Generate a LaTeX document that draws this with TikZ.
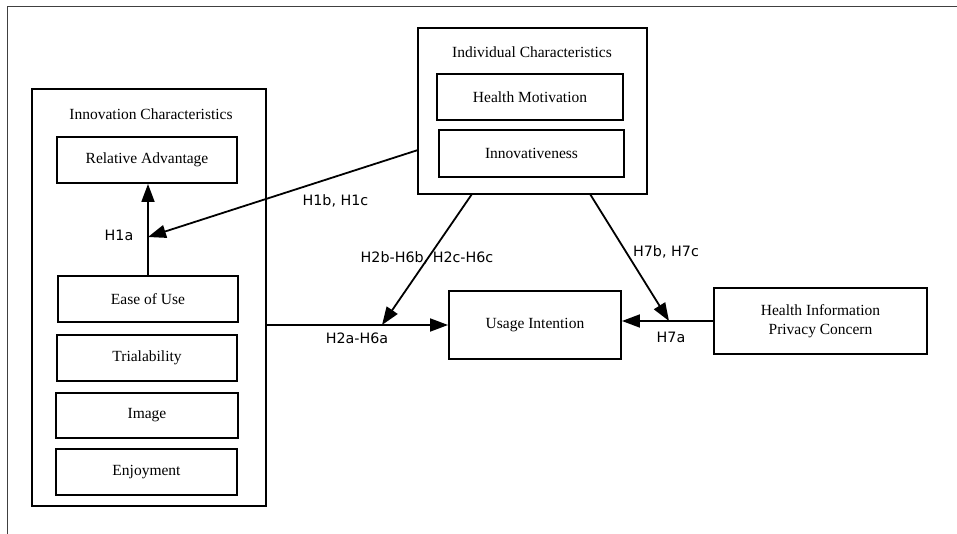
\documentclass[tikz,border=0pt]{standalone}
\usepackage{fontspec}
\setmainfont{Liberation Serif}
\newfontfamily\lblfont{DejaVu Sans}
\usetikzlibrary{arrows.meta,calc}
\begin{document}
\begin{tikzpicture}[x=1pt,y=-1pt,
  boxfont/.style={font=\fontsize{15.5}{19}\selectfont},
  outerbox/.style={draw=black,line width=2pt,rectangle,inner sep=0pt},
  itembox/.style={draw=black,line width=1.9pt,rectangle,inner sep=0pt,boxfont},
  grouptitle/.style={inner sep=0pt,boxfont},
  hyplabel/.style={inner sep=0pt,font=\lblfont\fontsize{14.3}{17}\selectfont},
  conn/.style={line width=1.8pt,-{Triangle[length=18pt,width=13pt]}},
  frameline/.style={line width=1pt,draw=black!75}]
\useasboundingbox (0,0) rectangle (957,534);
% frame
\coordinate (fTL) at (7,7);
\coordinate (fTR) at (957,7);
\coordinate (fBL) at (7,534);
\draw[frameline] (fBL) -- (fTL) -- (fTR);
% innovation group
\node[outerbox,minimum width=234pt,minimum height=417pt] (Inno) at (149,297.5) {};
\node[grouptitle] (InnoT) at (151,114) {Innovation Characteristics};
\node[itembox,minimum width=180pt,minimum height=46pt] (RA) at (147,160) {Relative Advantage};
\node[itembox,minimum width=180pt,minimum height=46pt] (EoU) at (148,299) {Ease of Use};
\node[itembox,minimum width=180pt,minimum height=46pt] (Tri) at (147,358) {Trialability};
\node[itembox,minimum width=182pt,minimum height=45pt] (Img) at (147,415.5) {Image};
\node[itembox,minimum width=181pt,minimum height=46pt] (Enj) at (146.5,472) {Enjoyment};
% individual group
\node[outerbox,minimum width=229pt,minimum height=166pt] (Ind) at (532.5,111) {};
\node[grouptitle] (IndT) at (532,52) {Individual Characteristics};
\node[itembox,minimum width=186pt,minimum height=46pt] (HM) at (530,97) {Health Motivation};
\node[itembox,minimum width=185pt,minimum height=47pt] (Innov) at (531.5,153.5) {Innovativeness};
% outcome and privacy
\node[itembox,minimum width=172pt,minimum height=68pt] (UI) at (535,325) {Usage Intention};
\node[itembox,minimum width=213pt,minimum height=66pt,align=center] (HIPC) at (820.5,321)
  {Health Information\\Privacy Concern};
% connector points
\coordinate (h1start) at (418,150);
\coordinate (h1tip) at (148,237);
\coordinate (h2start) at (472,194);
\coordinate (h2tip) at (382,325);
\coordinate (h7start) at (590,194);
\coordinate (h7tip) at (669,321);
% connectors
\draw[conn] (EoU.north) -- (EoU.north |- RA.south);
\draw[conn] (h1start) -- (h1tip);
\draw[conn] (Inno.east |- UI.west) -- (UI.west);
\draw[conn] (h2start) -- (h2tip);
\draw[conn] (HIPC.west) -- (HIPC.west -| UI.east);
\draw[conn] (h7start) -- (h7tip);
% labels
\node[hyplabel] (L1a) at (119,235) {H1a};
\node[hyplabel] (L1bc) at (335.5,201) {H1b, H1c};
\node[hyplabel] (L2bc) at (427,258) {H2b-H6b, H2c-H6c};
\node[hyplabel] (L2a) at (357,338) {H2a-H6a};
\node[hyplabel] (L7bc) at (666,252) {H7b, H7c};
\node[hyplabel] (L7a) at (671,337) {H7a};
\end{tikzpicture}
\end{document}
